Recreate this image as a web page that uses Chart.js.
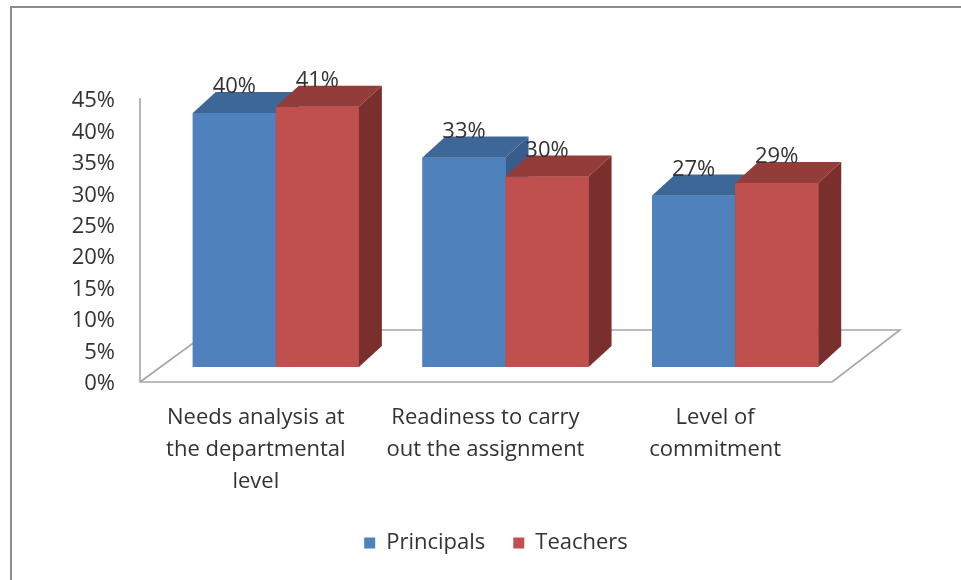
<!DOCTYPE html>
<html>
<head>
<meta charset="utf-8">
<script src="https://cdn.jsdelivr.net/npm/chart.js@4.4.1/dist/chart.umd.min.js"></script>
<style>
html, body { margin: 0; padding: 0; background: #ffffff; }
canvas { display: block; }
</style>
</head>
<body>
<canvas id="chart" width="961" height="580"></canvas>
<script>
// ---- data ----
const categories = [
  ["Needs analysis at", "the departmental", "level"],
  ["Readiness to carry", "out the assignment"],
  ["Level of", "commitment"]
];
const seriesNames = ["Principals", "Teachers"];
const principals = [40, 33, 27];
const teachers = [41, 30, 29];
const yTickLabels = ["0%", "5%", "10%", "15%", "20%", "25%", "30%", "35%", "40%", "45%"];

// ---- styles ----
const FONT = "'Open Sans', 'Noto Sans', sans-serif";
const TEXT = "#333333";
const frontColors = ["#4f81bd", "#c0504d"];
const topColors = ["#3d6797", "#943c39"];
const sideColors = ["#385d8b", "#7b2f2d"];
const DEPTH_X = 23, DEPTH_Y = -21;

function poly(ctx, pts) {
  ctx.beginPath();
  ctx.moveTo(pts[0][0], pts[0][1]);
  for (let i = 1; i < pts.length; i++) ctx.lineTo(pts[i][0], pts[i][1]);
  ctx.closePath();
  ctx.fill();
}

const threeD = {
  id: 'threeD',
  beforeDraw(chart) {
    const ctx = chart.ctx;
    ctx.save();
    ctx.fillStyle = '#ffffff';
    ctx.fillRect(0, 0, chart.width, chart.height);
    // outer frame (left and top edges)
    ctx.strokeStyle = '#8c8c8c';
    ctx.lineWidth = 2;
    ctx.beginPath();
    ctx.moveTo(11, chart.height);
    ctx.lineTo(11, 7);
    ctx.lineTo(chart.width, 7);
    ctx.stroke();
    ctx.restore();
  },
  beforeDatasetsDraw(chart) {
    const ctx = chart.ctx;
    const area = chart.chartArea;
    const yL = chart.scales.yL;
    const y0 = yL.getPixelForValue(0) - 2;
    const yTop = yL.getPixelForValue(45) - 3;
    const fl = area.left - 21, fr = area.right - 18;
    const bl = fl + 71, br = fr + 68, by = y0 - 52;
    ctx.save();
    ctx.strokeStyle = '#a6a6a6';
    ctx.lineWidth = 1.6;
    ctx.beginPath();
    ctx.moveTo(fl, yTop);
    ctx.lineTo(fl, y0);
    ctx.lineTo(fr, y0);
    ctx.lineTo(br, by);
    ctx.lineTo(bl, by);
    ctx.lineTo(fl, y0);
    ctx.stroke();
    ctx.restore();
  },
  afterDatasetsDraw(chart) {
    const ctx = chart.ctx;
    ctx.save();
    chart.data.datasets.forEach((ds, d) => {
      const meta = chart.getDatasetMeta(d);
      meta.data.forEach((bar) => {
        const p = bar.getProps(['x', 'y', 'base', 'width'], true);
        const L = p.x - p.width / 2, R = p.x + p.width / 2;
        bar.draw(ctx);
        ctx.fillStyle = topColors[d];
        poly(ctx, [[L, p.y], [R, p.y], [R + DEPTH_X, p.y + DEPTH_Y], [L + DEPTH_X, p.y + DEPTH_Y]]);
        ctx.fillStyle = sideColors[d];
        poly(ctx, [[R, p.y], [R + DEPTH_X, p.y + DEPTH_Y], [R + DEPTH_X, p.base + DEPTH_Y], [R, p.base]]);
      });
    });
    // data labels
    ctx.font = "22px " + FONT;
    ctx.fillStyle = TEXT;
    ctx.textAlign = 'center';
    ctx.textBaseline = 'middle';
    chart.data.datasets.forEach((ds, d) => {
      const meta = chart.getDatasetMeta(d);
      meta.data.forEach((bar, i) => {
        const p = bar.getProps(['x', 'y'], true);
        ctx.fillText(ds.data[i] + '%', p.x, p.y - 26);
      });
    });
    ctx.restore();
  }
};

new Chart(document.getElementById('chart'), {
  type: 'bar',
  data: {
    labels: categories,
    datasets: [
      { label: seriesNames[0], data: principals, backgroundColor: frontColors[0], borderWidth: 0, yAxisID: 'y' },
      { label: seriesNames[1], data: teachers, backgroundColor: frontColors[1], borderWidth: 0, yAxisID: 'y' }
    ]
  },
  options: {
    responsive: false,
    animation: false,
    events: [],
    categoryPercentage: 0.7233,
    barPercentage: 1.0,
    layout: { padding: { left: 60, right: 29, top: 101, bottom: 16 } },
    scales: {
      x: {
        type: 'category',
        offset: true,
        grid: { display: false, drawTicks: false },
        border: { display: false },
        ticks: {
          font: { family: FONT, size: 22, lineHeight: 1.45 },
          color: TEXT,
          padding: 18,
          labelOffset: -20,
          maxRotation: 0,
          autoSkip: false
        },
        afterFit(s) { s.height = 120; }
      },
      y: { display: false, min: -2.68, max: 41.9 },
      yL: {
        type: 'linear',
        position: 'left',
        min: 0,
        max: 45,
        grid: { display: false, drawTicks: false },
        border: { display: false },
        ticks: {
          stepSize: 5,
          padding: 46,
          font: { family: FONT, size: 22 },
          color: TEXT,
          callback: (v) => yTickLabels[Math.round(v / 5)]
        },
        afterFit(s) { s.width = 101; }
      },
      yR: {
        type: 'linear',
        position: 'right',
        min: 0,
        max: 1,
        grid: { display: false, drawTicks: false },
        border: { display: false },
        ticks: { display: false },
        afterFit(s) { s.width = 82; }
      }
    },
    plugins: {
      legend: {
        position: 'bottom',
        labels: {
          boxWidth: 11,
          boxHeight: 11,
          padding: 28,
          color: TEXT,
          font: { family: FONT, size: 22 }
        }
      },
      tooltip: { enabled: false }
    }
  },
  plugins: [threeD]
});
</script>
</body>
</html>
